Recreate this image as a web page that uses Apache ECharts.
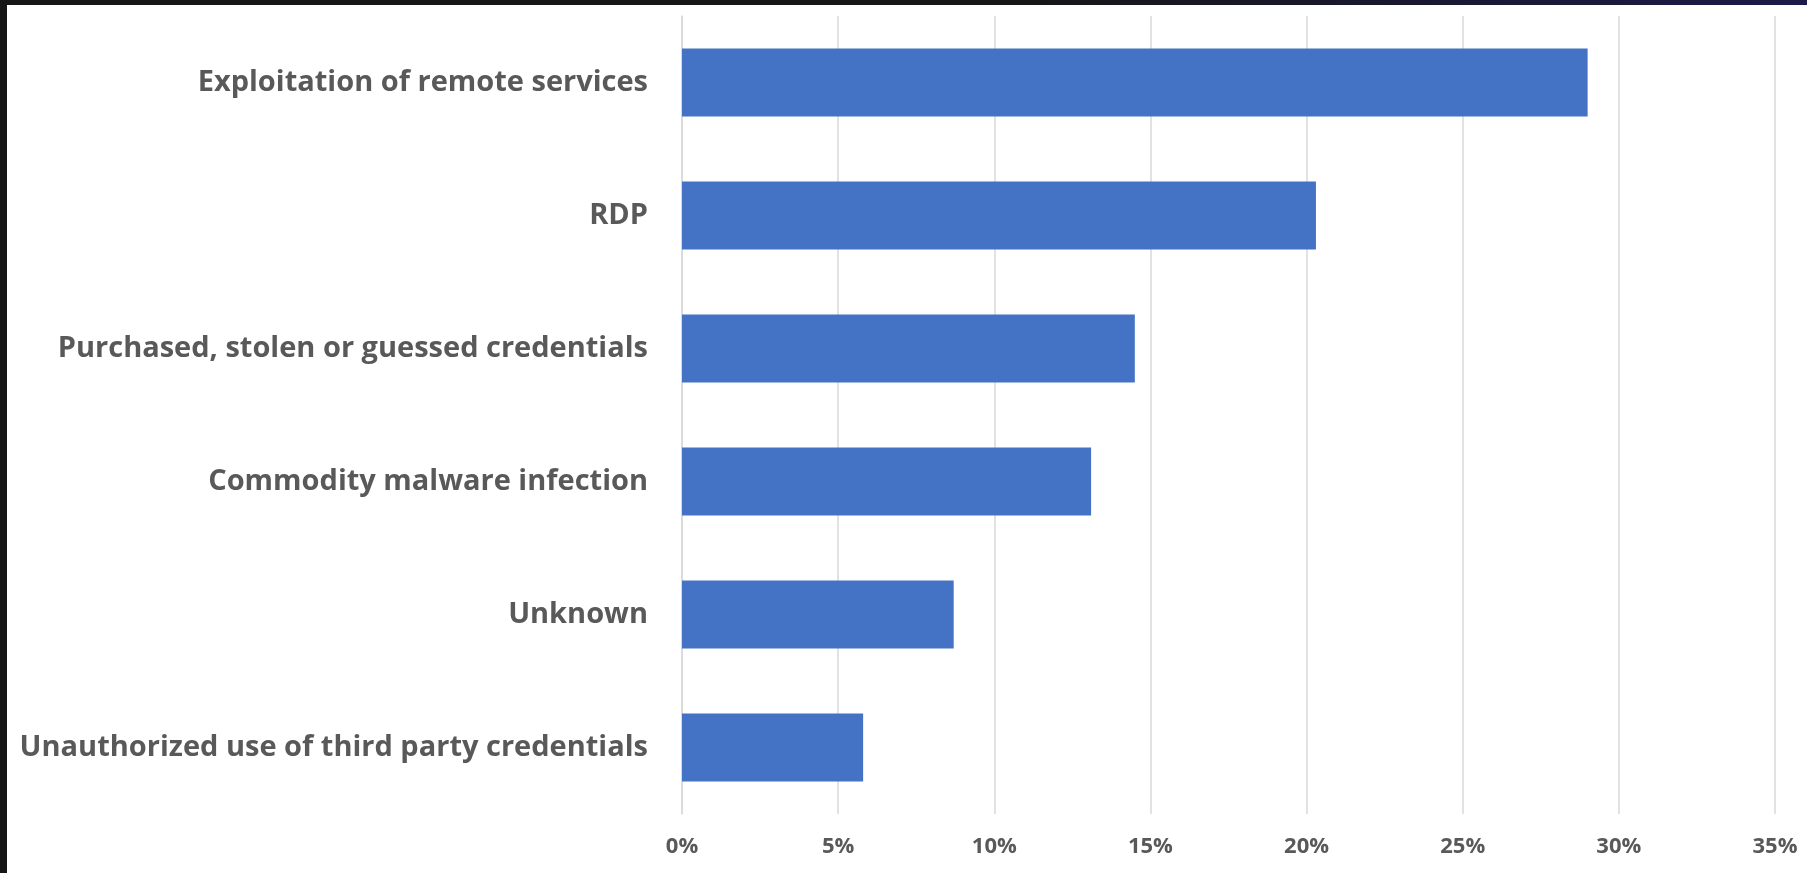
<!DOCTYPE html>
<html>
<head>
<meta charset="utf-8">
<script src="https://cdn.jsdelivr.net/npm/echarts@6/dist/echarts.min.js"></script>
<style>
html,body{margin:0;padding:0;width:1807px;height:873px;overflow:hidden;background:#161616;}
#topband{position:absolute;left:0;top:0;width:1807px;height:5px;background:linear-gradient(to right,#161616 55%,#1c1a48);}
#chart{position:absolute;left:7px;top:5px;width:1800px;height:868px;background:#fff;}
</style>
</head>
<body>
<div id="topband"></div>
<div id="chart"></div>
<script>
const categories = [
  "Exploitation of remote services",
  "RDP",
  "Purchased, stolen or guessed credentials",
  "Commodity malware infection",
  "Unknown",
  "Unauthorized use of third party credentials"
];
const values = [29.0, 20.3, 14.5, 13.1, 8.7, 5.8];
const tickMin = 0, tickMax = 35, tickStep = 5;

const chart = echarts.init(document.getElementById('chart'));
chart.setOption({
  animation: false,
  backgroundColor: '#ffffff',
  grid: {left: 675, right: 32, top: 11, bottom: 59},
  xAxis: {
    type: 'value', min: tickMin, max: tickMax, interval: tickStep,
    axisLine: {show: false}, axisTick: {show: false},
    splitLine: {lineStyle: {color: '#d9d9d9', width: 1.5}},
    axisLabel: {formatter: '{value}%', fontFamily: 'Open Sans', fontWeight: 'bold', fontSize: 22, color: '#595959', margin: 22}
  },
  yAxis: {
    type: 'category', data: categories, inverse: true,
    axisLine: {show: true, lineStyle: {color: '#d9d9d9', width: 1.5}},
    axisTick: {show: false},
    axisLabel: {fontFamily: 'Open Sans', fontWeight: 'bold', fontSize: 29, color: '#595959', margin: 34}
  },
  series: [{
    type: 'bar', data: values, barWidth: '51%',
    itemStyle: {color: '#4472c4'}
  }]
});
</script>
</body>
</html>
